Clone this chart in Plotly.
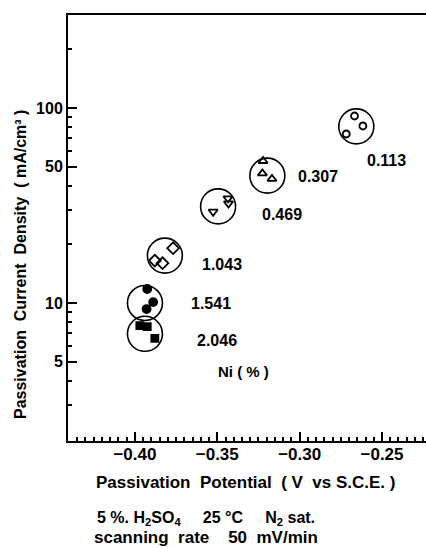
import math
import plotly.graph_objects as go

# ---- data ----
ni_labels = ["0.113", "0.307", "0.469", "1.043", "1.541", "2.046"]

pot_0113 = [-0.2717, -0.2667, -0.2616]
cur_0113 = [73.6, 91.0, 80.9]

pot_0307 = [-0.3222, -0.3226, -0.3168]
cur_0307 = [53.5, 46.2, 43.3]

pot_0469 = [-0.3525, -0.3435, -0.3432]
cur_0469 = [29.4, 34.4, 32.4]

pot_1043 = [-0.3879, -0.3832, -0.3768]
cur_1043 = [16.5, 16.0, 19.1]

pot_1541 = [-0.3925, -0.3889, -0.3929]
cur_1541 = [11.8, 10.1, 9.31]

pot_2046 = [-0.3970, -0.3925, -0.3879]
cur_2046 = [7.65, 7.56, 6.59]

# centres of the enclosing circles
ring_pot = [-0.2656, -0.3196, -0.3495, -0.3818, -0.3939, -0.3939]
ring_cur = [80.5, 45.0, 31.3, 17.5, 10.0, 6.95]

# label positions (same order as ni_labels)
label_pot = [-0.2473, -0.2891, -0.3109, -0.3473, -0.3539, -0.3503]
label_cur = [53.5, 44.8, 28.6, 15.8, 10.0, 6.46]
ni_title_pot = -0.3339
ni_title_cur = 4.43

y_major = [5, 10, 50, 100]
y_major_text = ["5", "10", "50", "100"]
y_minor = [3, 4, 6, 7, 8, 9, 20, 30, 40, 60, 70, 80, 90, 200, 300]

x_range = [-0.4406, -0.2233]
y_range = [1.96, 300]

FONT = "Liberation Sans"
BLACK = "#000000"

fig = go.Figure()

# enclosing circles
fig.add_trace(go.Scatter(
    x=ring_pot, y=ring_cur, mode="markers",
    marker=dict(symbol="circle-open", size=35, color=BLACK,
                line=dict(width=1.6, color=BLACK)),
    hoverinfo="skip", showlegend=False))

series = [
    (pot_0113, cur_0113, "circle-open", 7),
    (pot_0307, cur_0307, "triangle-up-open", 8),
    (pot_0469, cur_0469, "triangle-down-open", 8),
    (pot_1043, cur_1043, "diamond-open", 9),
    (pot_1541, cur_1541, "circle", 8),
    (pot_2046, cur_2046, "square", 7),
]
for (xs, ys, sym, sz), name in zip(series, ni_labels):
    fig.add_trace(go.Scatter(
        x=xs, y=ys, mode="markers", name=name,
        marker=dict(symbol=sym, size=sz, color=BLACK,
                    line=dict(width=1.8, color=BLACK)),
        showlegend=False))

annotations = []
for t, px, py in zip(ni_labels, label_pot, label_cur):
    annotations.append(dict(x=px, y=math.log10(py), xref="x", yref="y",
                            text=t, showarrow=False,
                            font=dict(family=FONT, size=16, color=BLACK, weight="bold")))
annotations.append(dict(x=ni_title_pot, y=math.log10(ni_title_cur), xref="x", yref="y",
                        text="Ni ( % )", showarrow=False,
                        font=dict(family=FONT, size=15, color=BLACK, weight="bold")))

# axis titles and notes (placed in pixels, converted below)
annotations.append(dict(x=20, y=265, xref="paper", yref="paper",
                        text="Passivation  Current  Density  ( mA/cm\u00b3 )",
                        textangle=-90, showarrow=False, xanchor="center",
                        font=dict(family=FONT, size=16, color=BLACK, weight="bold")))
annotations.append(dict(x=245, y=482, xref="paper", yref="paper", xanchor="center",
                        text="Passivation  Potential  ( V  vs S.C.E. )",
                        showarrow=False,
                        font=dict(family=FONT, size=17, color=BLACK, weight="bold")))
annotations.append(dict(x=95, y=518, xref="paper", yref="paper", xanchor="left",
                        text="5 %. H<sub>2</sub>SO<sub>4</sub>     25 \u00b0C     N<sub>2</sub> sat.",
                        showarrow=False,
                        font=dict(family=FONT, size=16, color=BLACK, weight="bold")))
annotations.append(dict(x=92, y=537, xref="paper", yref="paper", xanchor="left",
                        text="scanning  rate    50  mV/min",
                        showarrow=False,
                        font=dict(family=FONT, size=17, color=BLACK, weight="bold")))

W, H = 426, 548
L, R, T, B = 68, 0, 15, 107
pw, ph = W - L - R, H - T - B
for a in annotations:
    if a["xref"] == "paper":
        a["x"] = (a["x"] - L) / pw
        a["y"] = 1 - (a["y"] - T) / ph
        a["yanchor"] = "middle"

fig.update_layout(
    width=W, height=H,
    margin=dict(l=L, r=R, t=T, b=B, autoexpand=False),
    paper_bgcolor="white", plot_bgcolor="white",
    annotations=annotations,
    font=dict(family=FONT, color=BLACK),
)

fig.update_xaxes(
    range=x_range, dtick=0.05, tick0=0, tickformat=".2f",
    showgrid=False, zeroline=False,
    showline=True, linewidth=2, linecolor=BLACK, mirror=True,
    ticks="inside", ticklen=9, tickwidth=2, tickcolor=BLACK,
    ticklabelstandoff=-3,
    tickfont=dict(family=FONT, size=17, color=BLACK, weight="bold"),
    minor=dict(dtick=0.005, ticks="inside", ticklen=4, tickwidth=1.5, tickcolor=BLACK, showgrid=False),
)
fig.update_yaxes(
    type="log", range=[math.log10(y_range[0]), math.log10(y_range[1])],
    tickmode="array", tickvals=y_major, ticktext=y_major_text,
    showgrid=False, zeroline=False,
    showline=True, linewidth=2, linecolor=BLACK, mirror=False,
    ticks="inside", ticklen=9, tickwidth=2, tickcolor=BLACK,
    tickfont=dict(family=FONT, size=16, color=BLACK, weight="bold"),
    minor=dict(tickmode="array", tickvals=y_minor, ticks="inside", ticklen=4,
               tickwidth=1.5, tickcolor=BLACK, showgrid=False),
)

fig.write_html("out.html", config={"displayModeBar": False},
               post_script="document.body.style.margin='0px';document.body.style.overflow='hidden';")
